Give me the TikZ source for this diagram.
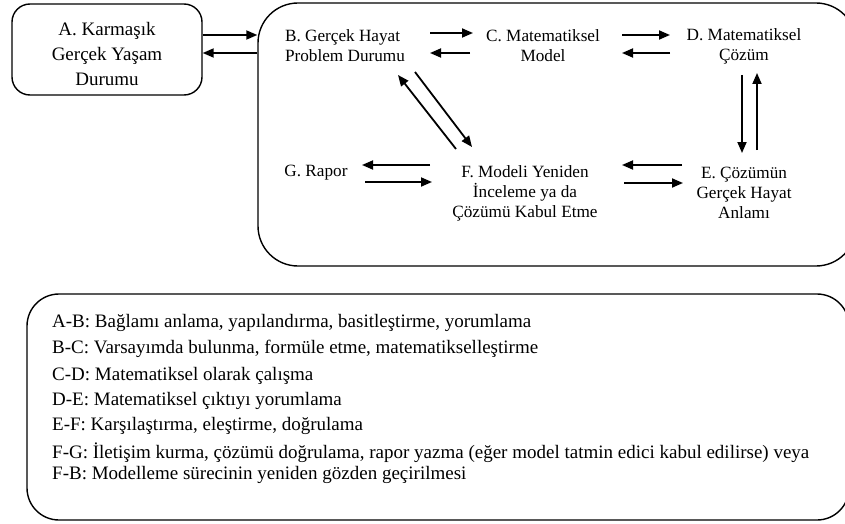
\documentclass[tikz,border=0pt]{standalone}
\usepackage{fontspec}
\setmainfont{Liberation Serif}
\usetikzlibrary{arrows.meta}

\tikzset{
  panel/.style={draw, line width=1.4pt, rounded corners=#1},
  stage/.style={inner sep=0pt, align=center, font=\fontsize{17.2}{20}\selectfont},
  arr/.style={line width=1.8pt, -{Triangle[length=11pt,width=9pt]}},
}

\begin{document}
\begin{tikzpicture}[x=1pt, y=-1pt]
\clip (0,0) rectangle (845,524);
% boxes
\node[panel=18pt, minimum width=190pt, minimum height=91pt] (A) at (107,49.5) {};
\node[align=center, inner sep=0pt, font=\fontsize{19}{25}\selectfont] (Atext) at (107,54.5)
  {A. Karmaşık\\Gerçek Yaşam\\Durumu};
\node[panel=40pt, minimum width=598pt, minimum height=263pt] (world) at (557,134.5) {};
\node[panel=32pt, minimum width=822pt, minimum height=226pt] (legend) at (438,407) {};

% stages
\node[stage, align=left] (B) at (345,46) {B. Gerçek Hayat\\Problem Durumu};
\node[stage] (C) at (543,46) {C. Matematiksel\\Model};
\node[stage] (D) at (744,46) {D. Matematiksel\\Çözüm};
\node[stage] (E) at (744,193) {E. Çözümün\\Gerçek Hayat\\Anlamı};
\node[stage] (F) at (525,193) {F. Modeli Yeniden\\İnceleme ya da\\Çözümü Kabul Etme};
\node[stage] (G) at (316,173) {G. Rapor};

% arrows
\draw[arr] ([yshift=14.5pt]A.east) -- ([yshift=14.5pt]A.east -| world.west);
\draw[arr] ([yshift=-3.5pt]A.east -| world.west) -- ([yshift=-3.5pt]A.east);
\draw[arr] ([shift={(85,-13)}]B.center) -- ([shift={(-70,-13)}]C.center);
\draw[arr] ([shift={(-73,7)}]C.center) -- ([shift={(85,7)}]B.center);
\draw[arr] ([shift={(79,-11)}]C.center) -- ([shift={(-74,-11)}]D.center);
\draw[arr] ([shift={(-74,7)}]D.center) -- ([shift={(79,7)}]C.center);
\draw[arr] ([shift={(-2,29)}]D.center) -- ([shift={(-2,-40)}]E.center);
\draw[arr] ([shift={(13,-43)}]E.center) -- ([shift={(13,27)}]D.center);
\draw[arr] ([shift={(-62,-28)}]E.center) -- ([shift={(97,-28)}]F.center);
\draw[arr] ([shift={(99,-10)}]F.center) -- ([shift={(-61,-10)}]E.center);
\draw[arr] ([shift={(-95,-28)}]F.center) -- ([shift={(46,-8)}]G.center);
\draw[arr] ([shift={(49,9)}]G.center) -- ([shift={(-93,-11)}]F.center);
\draw[arr] ([shift={(-69,-44)}]F.center) -- ([shift={(53,29)}]B.center);
\draw[arr] ([shift={(70,26)}]B.center) -- ([shift={(-53,-46)}]F.center);

% legend
\foreach \i/\ypos/\txt in {
  {1/323/A-B: Bağlamı anlama, yapılandırma, basitleştirme, yorumlama},
  {2/349/B-C: Varsayımda bulunma, formüle etme, matematikselleştirme},
  {3/376/C-D: Matematiksel olarak çalışma},
  {4/401/D-E: Matematiksel çıktıyı yorumlama},
  {5/426/E-F: Karşılaştırma, eleştirme, doğrulama},
  {6/453/F-G: İletişim kurma, çözümü doğrulama, rapor yazma (eğer model tatmin edici kabul edilirse) veya},
  {7/475/F-B: Modelleme sürecinin yeniden gözden geçirilmesi}}
  \node[anchor=west, inner sep=0pt, font=\fontsize{19}{23}\selectfont] (leg\i) at (52,\ypos) {\txt};
\end{tikzpicture}
\end{document}
